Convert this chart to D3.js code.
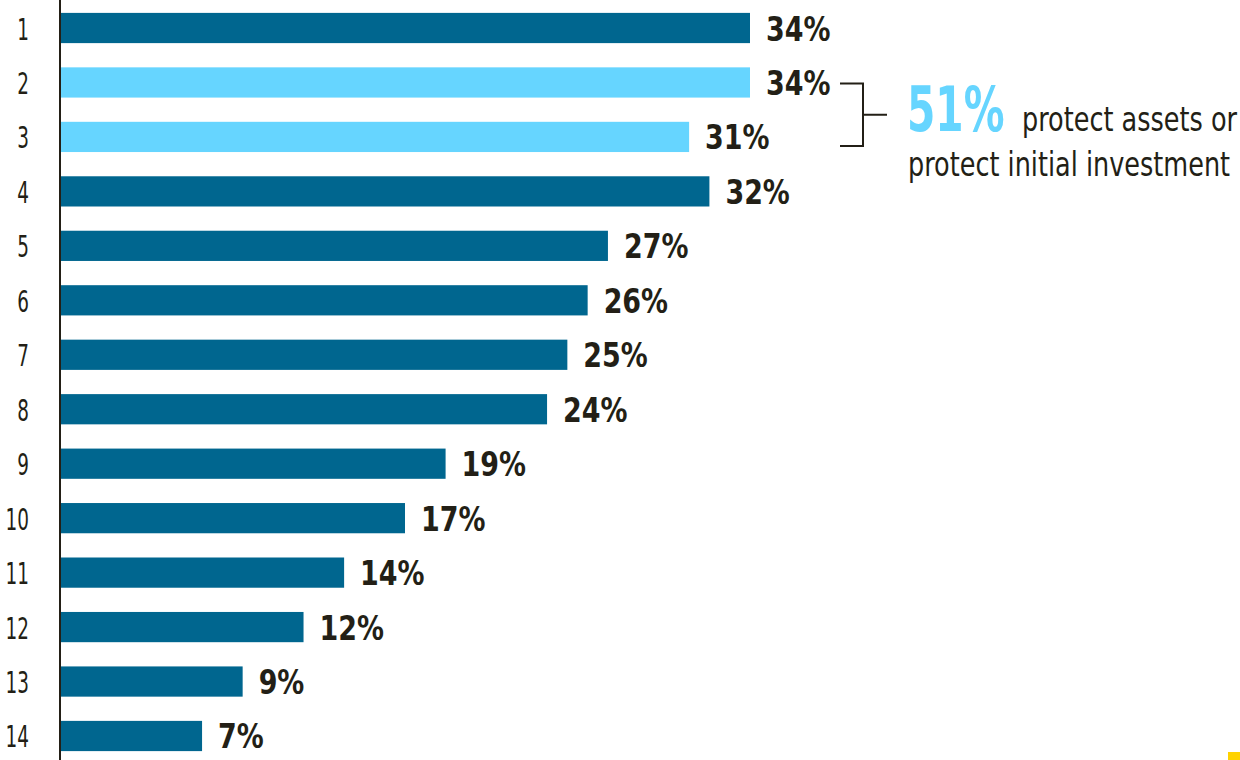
<!DOCTYPE html>
<html>
<head>
<meta charset="utf-8">
<script src="https://cdn.jsdelivr.net/npm/d3@7"></script>
<style>
  html, body { margin: 0; padding: 0; background: #fff; }
  svg { display: block; }
</style>
</head>
<body>
<svg id="chart" width="1240" height="760"></svg>
<script>
// Row labels and their shares (percent)
const categories = ["1","2","3","4","5","6","7","8","9","10","11","12","13","14"];
const values = [34, 34, 31, 32, 27, 26, 25, 24, 19, 17, 14, 12, 9, 7];
// Rows grouped by the bracket annotation
const highlighted = ["2", "3"];
const annotationValue = "51%";
const annotationLines = ["protect assets or", "protect initial investment"];

const dark = "#00668f";
const light = "#66d5ff";
const ink = "#231f16";
const face = "'DejaVu Sans Condensed', 'DejaVu Sans', sans-serif";

const svg = d3.select("#chart");

const x = d3.scaleLinear().domain([0, 34]).range([60, 750]);
const y = d3.scaleBand().domain(categories).range([2, 762]).paddingInner(0.445).paddingOuter(0.2);

// Text drawn in a narrowed face: squeeze horizontally around its anchor point
function narrowText(g, px, py, sx, size, weight, anchor, str, fill) {
  return g.append("text")
    .attr("transform", `translate(${px},${py}) scale(${sx},1)`)
    .attr("font-family", face)
    .attr("font-size", size)
    .attr("font-weight", weight)
    .attr("text-anchor", anchor)
    .attr("fill", fill || ink)
    .text(str);
}

const rows = categories.map((c, i) => ({ c, v: values[i] }));
const mid = c => y(c) + y.bandwidth() / 2;

// Category labels
const ticks = svg.append("g");
rows.forEach(d => narrowText(ticks, 29, mid(d.c) + 11.5, 0.66, 31, 300, "end", d.c));

// Bars
svg.append("g").selectAll("rect")
  .data(rows).join("rect")
  .attr("x", x(0) + 1)
  .attr("y", d => y(d.c))
  .attr("width", d => x(d.v) - x(0) - 1)
  .attr("height", y.bandwidth())
  .attr("fill", d => highlighted.includes(d.c) ? light : dark);

// Axis line
svg.append("line")
  .attr("x1", 60).attr("x2", 60)
  .attr("y1", 0).attr("y2", 760)
  .attr("stroke", ink).attr("stroke-width", 2);

// Value labels
const labels = svg.append("g");
rows.forEach(d => narrowText(labels, x(d.v) + 16, mid(d.c) + 12.5, 0.88, 34, "bold", "start", d.v + "%"));

// Bracket joining the highlighted rows
const yTop = mid(highlighted[0]) + 1;
const yBot = mid(highlighted[1]) + 9;
const yMid = (yTop + yBot) / 2;
svg.append("path")
  .attr("d", `M840,${yTop}H863V${yBot}H840M863,${yMid}H887`)
  .attr("fill", "none")
  .attr("stroke", ink)
  .attr("stroke-width", 2);

const note = svg.append("g");
narrowText(note, 907, yMid + 16, 0.73, 62, "bold", "start", annotationValue, light);
narrowText(note, 1022, yMid + 16, 0.835, 34, 300, "start", annotationLines[0]);
narrowText(note, 908, yMid + 61, 0.835, 34, 300, "start", annotationLines[1]);

// Small accent mark in the corner
svg.append("rect")
  .attr("x", 1228).attr("y", 752).attr("width", 12).attr("height", 8)
  .attr("fill", "#ffd200");
</script>
</body>
</html>
